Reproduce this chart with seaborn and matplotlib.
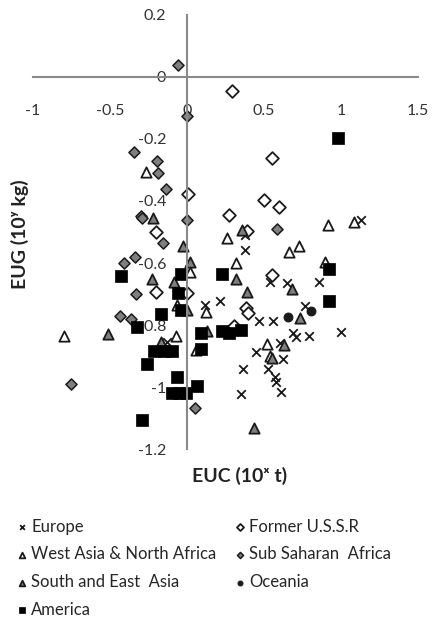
import matplotlib
matplotlib.use("Agg")
import matplotlib.pyplot as plt
import seaborn as sns

# Data (x = EUC, y = EUG)
europe_x = [1.128, 0.38, 0.38, 0.543, 0.65, 0.857, 0.12, 0.214, 0.468, 0.56, 0.77, 0.69, 0.706,
            0.792, 1.0, 0.446, 0.608, 0.623, 0.364, 0.528, 0.571, 0.582, 0.613, 0.349, -0.128]
europe_y = [-0.461, -0.51, -0.557, -0.66, -0.663, -0.661, -0.734, -0.723, -0.788, -0.788, -0.739, -0.824, -0.837,
            -0.834, -0.822, -0.888, -0.858, -0.909, -0.94, -0.943, -0.966, -0.983, -1.015, -1.023, -0.855]

ussr_x = [0.29, 0.554, 0.006, 0.50, 0.597, 0.273, 0.39, -0.203, 0.554, -0.2, 0.0, 0.385, 0.40, 0.305]
ussr_y = [-0.046, -0.261, -0.377, -0.398, -0.42, -0.444, -0.496, -0.50, -0.639, -0.694, -0.696, -0.745, -0.76, -0.804]

wana_x = [-0.268, 0.916, 1.084, 0.262, 0.66, 0.727, 0.316, 0.894, 0.02, -0.063, 0.126, -0.80, -0.073,
          0.056, 0.521, 0.54]
wana_y = [-0.306, -0.476, -0.469, -0.52, -0.566, -0.546, -0.60, -0.596, -0.63, -0.734, -0.757, -0.836, -0.834,
          -0.88, -0.86, -0.90]

ssa_x = [-0.058, 0.0, -0.344, -0.193, -0.186, -0.138, -0.30, -0.29, 0.0, 0.586, -0.154, -0.41, -0.338,
         -0.333, -0.435, -0.36, -0.755, 0.05]
ssa_y = [0.037, -0.127, -0.241, -0.27, -0.31, -0.363, -0.447, -0.455, -0.461, -0.49, -0.536, -0.60, -0.579,
         -0.70, -0.772, -0.78, -0.99, -1.066]

sea_x = [-0.22, 0.36, -0.024, 0.02, -0.225, -0.084, 0.316, 0.684, 0.388, 0.0, -0.51, -0.167, 0.132,
         0.734, 0.63, 0.55, 0.435]
sea_y = [-0.455, -0.494, -0.544, -0.598, -0.653, -0.66, -0.65, -0.685, -0.693, -0.75, -0.83, -0.855, -0.818,
         -0.777, -0.864, -0.907, -1.132]

oceania_x = [0.656, 0.803]
oceania_y = [-0.775, -0.755]

america_x = [0.98, -0.43, -0.04, -0.058, 0.926, 0.23, 0.922, -0.035, -0.167, -0.327, -0.214, -0.149, -0.097,
             0.089, 0.089, 0.23, 0.273, 0.349, -0.258, -0.067, 0.067, -0.095, -0.052, -0.008, -0.294]
america_y = [-0.198, -0.642, -0.636, -0.696, -0.62, -0.636, -0.723, -0.753, -0.764, -0.807, -0.885, -0.885, -0.885,
             -0.824, -0.878, -0.82, -0.826, -0.817, -0.926, -0.966, -0.997, -1.02, -1.02, -1.02, -1.107]

x_ticks = [-1, -0.5, 0, 0.5, 1, 1.5]
x_tick_labels = ["-1", "-0.5", "0", "0.5", "1", "1.5"]
y_ticks = [0.2, 0, -0.2, -0.4, -0.6, -0.8, -1, -1.2]
y_tick_labels = ["0.2", "0", "-0.2", "-0.4", "-0.6", "-0.8", "-1", "-1.2"]

sns.set_style("white")
plt.rcParams["font.family"] = ["Lato", "DejaVu Sans"]

fig = plt.figure(figsize=(4.33, 6.17), dpi=100)
ax = fig.add_axes([0.076, 0.272, 0.889, 0.704])

gray = "#7f7f7f"
edge = "#1a1a1a"

series = [
    ("Europe", europe_x, europe_y, dict(marker="x", color=edge, s=38, linewidth=1.3)),
    ("Former U.S.S.R", ussr_x, ussr_y, dict(marker="D", color="white", edgecolor=edge, s=42, linewidth=1.3)),
    ("West Asia & North Africa", wana_x, wana_y, dict(marker="^", color="white", edgecolor=edge, s=55, linewidth=1.3)),
    ("Sub Saharan  Africa", ssa_x, ssa_y, dict(marker="D", color=gray, edgecolor=edge, s=32, linewidth=1.1)),
    ("South and East  Asia", sea_x, sea_y, dict(marker="^", color=gray, edgecolor=edge, s=55, linewidth=1.3)),
    ("Oceania", oceania_x, oceania_y, dict(marker="o", color=edge, edgecolor=edge, s=40, linewidth=0.8)),
    ("America", america_x, america_y, dict(marker="s", color="black", edgecolor="black", s=64, linewidth=0.5)),
]

for name, xs, ys, kw in series:
    sns.scatterplot(x=xs, y=ys, ax=ax, label=name, **kw)

ax.set_xlim(-1, 1.5)
ax.set_ylim(-1.2, 0.2)

# axes crossing at the origin, Excel style
ax.spines["left"].set_position(("data", 0))
ax.spines["bottom"].set_position(("data", 0))
ax.spines["top"].set_visible(False)
ax.spines["right"].set_visible(False)
for side in ["left", "bottom"]:
    ax.spines[side].set_color("#8a8a8a")
    ax.spines[side].set_linewidth(1.5)

ax.set_xticks(x_ticks)
ax.set_xticklabels(x_tick_labels)
ax.set_yticks(y_ticks)
ax.set_yticklabels(y_tick_labels)
ax.tick_params(axis="x", direction="inout", length=7, width=1.3, color="#8a8a8a",
               pad=16, labelsize=11.5, labelcolor="#333333")
ax.tick_params(axis="y", direction="out", length=4, width=1.3, color="#8a8a8a",
               pad=11, labelsize=11.5, labelcolor="#333333")
ax.set_xlabel("")
ax.set_ylabel("")
ax.grid(False)

fig.text(0.045, 0.62, "EUG (10ʸ kg)", rotation=90, ha="center", va="center",
         fontsize=14, fontweight="bold", color="#222222")
fig.text(0.553, 0.228, "EUC (10ˣ t)", ha="center", va="center",
         fontsize=14, fontweight="bold", color="#222222")

# legend: two columns, filled column by column like the reference
handles, labels = ax.get_legend_handles_labels()
order = [0, 2, 4, 6, 1, 3, 5]
ax.legend([handles[i] for i in order], [labels[i] for i in order], ncol=2, frameon=False,
          loc="upper left", bbox_to_anchor=(0.02, 0.17), bbox_transform=fig.transFigure,
          fontsize=12, markerscale=0.55, handletextpad=0.15, handlelength=0.8,
          columnspacing=1.0, labelspacing=0.7, borderaxespad=0)

plt.savefig("out.png", dpi=100)
plt.close()
